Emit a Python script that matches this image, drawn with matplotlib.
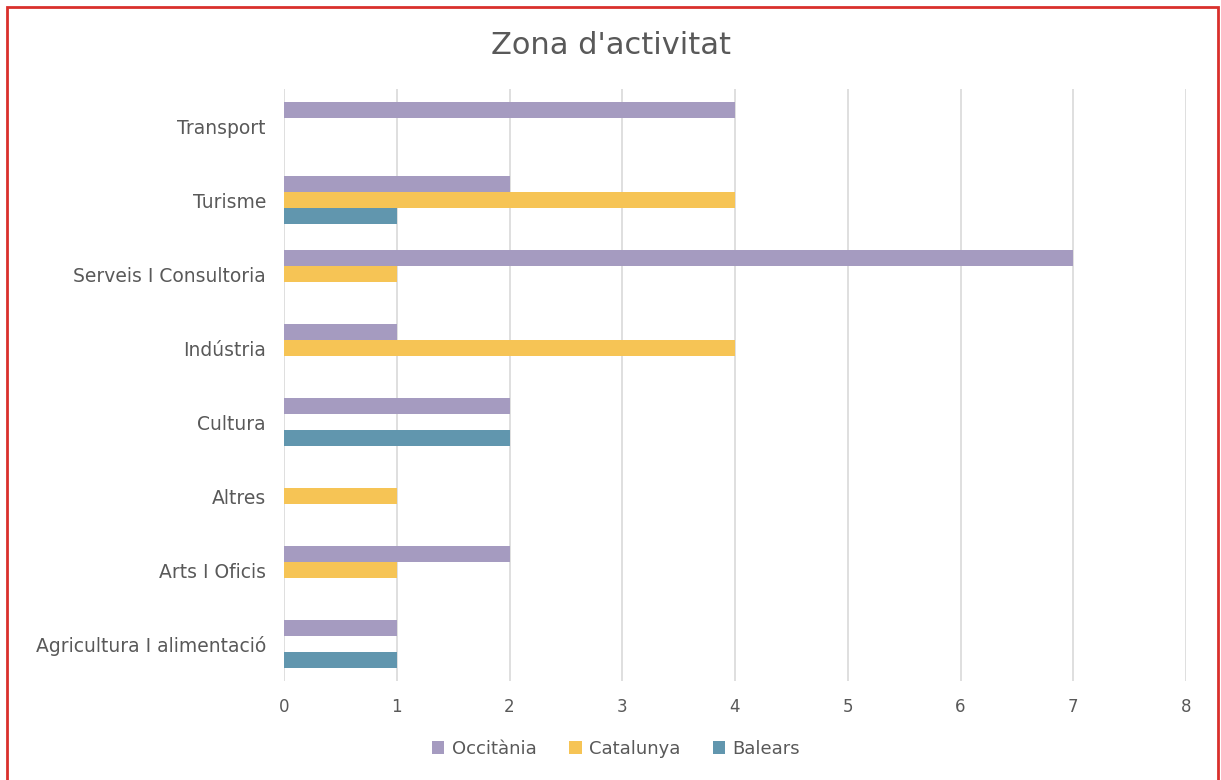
import matplotlib
matplotlib.use("Agg")
import matplotlib.pyplot as plt
import numpy as np
from matplotlib.patches import Rectangle

categories = ["Agricultura I alimentació", "Arts I Oficis", "Altres", "Cultura",
              "Indústria", "Serveis I Consultoria", "Turisme", "Transport"]
occitania = [1, 2, 0, 2, 1, 7, 2, 4]
catalunya = [0, 1, 1, 0, 4, 1, 4, 0]
balears = [1, 0, 0, 2, 0, 0, 1, 0]
series_names = ["Occitània", "Catalunya", "Balears"]
colors = ["#a59bc0", "#f6c455", "#6196ae"]
xticks = list(range(0, 9))

plt.rcParams['font.family'] = ['DejaVu Sans']
text_color = "#595959"

fig = plt.figure(figsize=(12.21, 7.80), dpi=100)
ax = fig.add_axes([284/1221, 1 - 681/780, (1186-284)/1221, (681-89)/780])

y = np.arange(len(categories))
h = 0.216
for vals, off, col, name in zip([occitania, catalunya, balears], [h, 0, -h], colors, series_names):
    ax.barh(y + off, vals, height=h, color=col, label=name, zorder=3)

ax.set_ylim(-0.5, len(categories) - 0.5)
ax.set_xlim(0, 8)
ax.set_xticks(xticks)
ax.set_yticks(y)
ax.set_yticklabels(categories, fontsize=13.5)
ax.tick_params(axis='both', length=0, colors=text_color)
ax.tick_params(axis='x', pad=12, labelsize=12)
ax.tick_params(axis='y', pad=13)
ax.grid(axis='x', color="#d9d9d9", linewidth=1.2, zorder=0)
ax.grid(axis='y', visible=False)
for s in ax.spines.values():
    s.set_visible(False)

fig.text(611/1221, 1 - 45/780, "Zona d'activitat", ha='center', va='center',
         fontsize=22, color=text_color)

handles, labels = ax.get_legend_handles_labels()
leg = fig.legend(handles, labels, loc='center', bbox_to_anchor=(616/1221, 1 - 749/780),
                 ncol=3, frameon=False, fontsize=13, labelcolor=text_color,
                 handlelength=0.7, handleheight=0.7, handletextpad=0.4, columnspacing=1.8)

fig.patches.append(Rectangle((7/1221, -0.05), (1218-7)/1221, 1.05 - 7/780, transform=fig.transFigure,
                             fill=False, edgecolor="#d9302c", linewidth=2, zorder=10))

fig.savefig("out.png", dpi=100)
